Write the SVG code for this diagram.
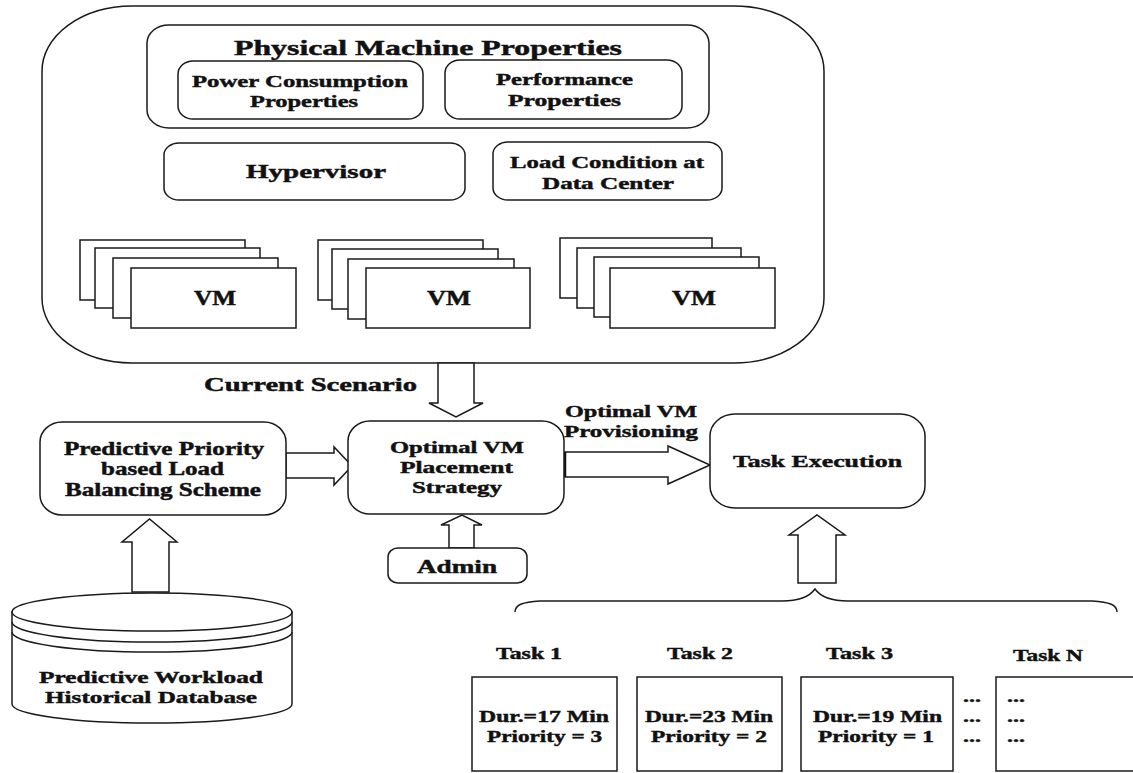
<svg xmlns="http://www.w3.org/2000/svg" width="1133" height="773" viewBox="0 0 1133 773">
<style>
.b{fill:#fff;stroke:#1a1a1a;stroke-width:1.5}
.t{font-family:"Liberation Serif","Times New Roman",serif;font-weight:bold;fill:#111;stroke:#111;stroke-width:0.45}
.s17{font-size:17.5px}
.s19{font-size:19px}
.ar{fill:#fff;stroke:#1a1a1a;stroke-width:1.5;stroke-linejoin:miter}
</style>
<rect width="1133" height="773" fill="#fff"/>
<g id="physical-machine">
<rect class="b" x="42" y="6" width="782" height="357" rx="90" ry="65"/>
<g id="pm-properties">
<rect class="b" x="147" y="25" width="562" height="103" rx="22" ry="18"/>
<text class="t" x="234" y="55" font-size="21" textLength="388" lengthAdjust="spacingAndGlyphs">Physical Machine Properties</text>
</g>
<g id="power-consumption">
<rect class="b" x="178" y="61" width="245" height="58" rx="15" ry="13"/>
<text class="t s17" x="192" y="87" textLength="216" lengthAdjust="spacingAndGlyphs">Power Consumption</text>
<text class="t s17" x="250" y="107" textLength="108" lengthAdjust="spacingAndGlyphs">Properties</text>
</g>
<g id="performance">
<rect class="b" x="445" y="60" width="237" height="59" rx="15" ry="13"/>
<text class="t s17" x="496" y="85" textLength="137" lengthAdjust="spacingAndGlyphs">Performance</text>
<text class="t s17" x="508" y="106" textLength="113" lengthAdjust="spacingAndGlyphs">Properties</text>
</g>
<g id="hypervisor">
<rect class="b" x="164" y="143" width="301" height="57" rx="15" ry="12"/>
<text class="t s19" x="246" y="178" textLength="140" lengthAdjust="spacingAndGlyphs">Hypervisor</text>
</g>
<g id="load-condition">
<rect class="b" x="493" y="142" width="229" height="58" rx="15" ry="12"/>
<text class="t s17" x="510" y="168" textLength="194" lengthAdjust="spacingAndGlyphs">Load Condition at</text>
<text class="t s17" x="542" y="189" textLength="132" lengthAdjust="spacingAndGlyphs">Data Center</text>
</g>
<g id="vm-group-1">
<rect class="b" x="80" y="240" width="165" height="60"/>
<rect class="b" x="95" y="248" width="165" height="60"/>
<rect class="b" x="113" y="258" width="165" height="60"/>
<rect class="b" x="131" y="268" width="165" height="60"/>
<text class="t" x="194" y="305" font-size="20" textLength="42" lengthAdjust="spacingAndGlyphs">VM</text>
</g>
<g id="vm-group-2">
<rect class="b" x="318" y="240" width="165" height="60"/>
<rect class="b" x="332" y="249" width="166" height="60"/>
<rect class="b" x="348" y="259" width="166" height="60"/>
<rect class="b" x="366" y="268" width="164" height="60"/>
<text class="t" x="427" y="305" font-size="20" textLength="44" lengthAdjust="spacingAndGlyphs">VM</text>
</g>
<g id="vm-group-3">
<rect class="b" x="560" y="238" width="152" height="60"/>
<rect class="b" x="577" y="248" width="164" height="60"/>
<rect class="b" x="594" y="257" width="165" height="60"/>
<rect class="b" x="610" y="268" width="165" height="60"/>
<text class="t" x="672" y="305" font-size="20" textLength="44" lengthAdjust="spacingAndGlyphs">VM</text>
</g>
</g>
<g id="connectors">
<polygon class="ar" points="438,363 474,363 474,403 483,403 456,417 429,403 438,403"/>
<text class="t" x="204" y="391" font-size="18.5" textLength="213" lengthAdjust="spacingAndGlyphs">Current Scenario</text>
<polygon class="ar" points="286,453 334,453 334,447 352,466 334,485 334,478 286,478"/>
<polygon class="ar" points="565,452 668,452 668,446 710,465 668,484 668,477 565,477"/>
<line x1="565" y1="452" x2="565" y2="477" stroke="#111" stroke-width="2.5"/>
<text class="t s17" x="565" y="417" textLength="132" lengthAdjust="spacingAndGlyphs">Optimal VM</text>
<text class="t s17" x="564" y="437" textLength="134" lengthAdjust="spacingAndGlyphs">Provisioning</text>
<polygon class="ar" points="449,548 449,525 441,525 462,515 482,525 474,525 474,548"/>
<polygon class="ar" points="132,592 132,542 122,542 149.5,519 177,542 169,542 169,592"/>
<polygon class="ar" points="798,583 798,535 789,535 817,515 845,535 836,535 836,583"/>
<path d="M515,612 C515,605 522,602 540,601 L782,601 C800,601 810,596 815,589 C820,596 830,601 848,601 L1092,601 C1110,602 1117,605 1117,612" fill="none" stroke="#1a1a1a" stroke-width="1.5"/>
</g>
<g id="predictive-priority">
<rect class="b" x="40" y="422" width="246" height="93" rx="22" ry="20"/>
<text class="t" x="64" y="455" font-size="18" textLength="200" lengthAdjust="spacingAndGlyphs">Predictive Priority</text>
<text class="t" x="101" y="475" font-size="18" textLength="123" lengthAdjust="spacingAndGlyphs">based Load</text>
<text class="t" x="65" y="496" font-size="18" textLength="196" lengthAdjust="spacingAndGlyphs">Balancing Scheme</text>
</g>
<g id="optimal-vm-placement">
<rect class="b" x="348" y="421" width="216" height="93" rx="22" ry="20"/>
<text class="t s17" x="390" y="453" textLength="134" lengthAdjust="spacingAndGlyphs">Optimal VM</text>
<text class="t s17" x="400" y="473" textLength="113" lengthAdjust="spacingAndGlyphs">Placement</text>
<text class="t s17" x="412" y="493" textLength="90" lengthAdjust="spacingAndGlyphs">Strategy</text>
</g>
<g id="admin">
<rect class="b" x="388" y="548" width="139" height="35" rx="10" ry="9"/>
<text class="t s19" x="417" y="573" textLength="80" lengthAdjust="spacingAndGlyphs">Admin</text>
</g>
<g id="task-execution">
<rect class="b" x="710" y="414" width="215" height="94" rx="25" ry="22"/>
<text class="t s17" x="733" y="467" textLength="169" lengthAdjust="spacingAndGlyphs">Task Execution</text>
</g>
<g id="database">
<path class="b" d="M12,612 L12,704 A140,19 0 0 0 292,704 L292,612 Z"/>
<ellipse class="b" cx="152" cy="612" rx="140" ry="19"/>
<path d="M12,622 A140,20 0 0 0 292,622 M12,632 A140,20 0 0 0 292,632" fill="none" stroke="#1a1a1a" stroke-width="1.5"/>
<text class="t s17" x="39" y="683" textLength="224" lengthAdjust="spacingAndGlyphs">Predictive Workload</text>
<text class="t s17" x="45" y="703" textLength="212" lengthAdjust="spacingAndGlyphs">Historical Database</text>
</g>
<g id="task-1">
<text class="t" x="496" y="659" font-size="17" textLength="66" lengthAdjust="spacingAndGlyphs">Task 1</text>
<rect class="b" x="472" y="677" width="145" height="94"/>
<text class="t s17" x="479" y="722" textLength="130" lengthAdjust="spacingAndGlyphs">Dur.=17 Min</text>
<text class="t s17" x="487" y="742" textLength="115" lengthAdjust="spacingAndGlyphs">Priority = 3</text>
</g>
<g id="task-2">
<text class="t" x="667" y="659" font-size="17" textLength="66" lengthAdjust="spacingAndGlyphs">Task 2</text>
<rect class="b" x="637" y="677" width="145" height="94"/>
<text class="t s17" x="645" y="722" textLength="128" lengthAdjust="spacingAndGlyphs">Dur.=23 Min</text>
<text class="t s17" x="651" y="742" textLength="116" lengthAdjust="spacingAndGlyphs">Priority = 2</text>
</g>
<g id="task-3">
<text class="t" x="826" y="659" font-size="17" textLength="67" lengthAdjust="spacingAndGlyphs">Task 3</text>
<rect class="b" x="801" y="677" width="152" height="94"/>
<text class="t s17" x="813" y="722" textLength="129" lengthAdjust="spacingAndGlyphs">Dur.=19 Min</text>
<text class="t s17" x="818" y="742" textLength="116" lengthAdjust="spacingAndGlyphs">Priority = 1</text>
</g>
<g id="ellipsis">
<text class="t s17" x="963" y="702" textLength="18" lengthAdjust="spacingAndGlyphs">...</text>
<text class="t s17" x="963" y="722" textLength="18" lengthAdjust="spacingAndGlyphs">...</text>
<text class="t s17" x="963" y="742" textLength="18" lengthAdjust="spacingAndGlyphs">...</text>
</g>
<g id="task-n">
<text class="t" x="1013" y="661" font-size="17" textLength="70" lengthAdjust="spacingAndGlyphs">Task N</text>
<rect class="b" x="996" y="677" width="150" height="94"/>
<text class="t s17" x="1007" y="702" textLength="18" lengthAdjust="spacingAndGlyphs">...</text>
<text class="t s17" x="1007" y="722" textLength="18" lengthAdjust="spacingAndGlyphs">...</text>
<text class="t s17" x="1007" y="742" textLength="18" lengthAdjust="spacingAndGlyphs">...</text>
</g>
</svg>
